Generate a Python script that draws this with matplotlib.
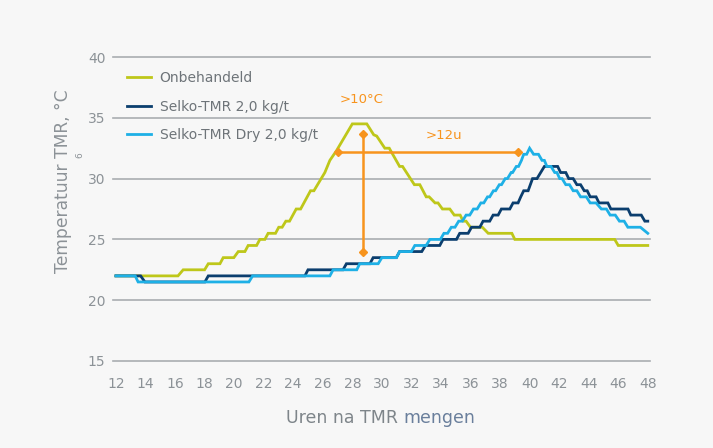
import matplotlib
matplotlib.use("Agg")
import matplotlib.pyplot as plt

# ---------------- data ----------------
hours_onb = [12, 16.2, 16.55, 18.0, 18.25, 19.04, 19.26, 19.98, 20.28, 20.73, 20.95, 21.52, 21.74,
             22.08, 22.3, 22.8, 23.02, 23.25, 23.5, 23.75, 24.2, 24.5, 25.17, 25.4, 26.14, 26.48,
             26.93, 28.0, 28.98, 29.45, 29.65, 30.2, 30.5, 31.2, 31.4, 32.2, 32.57, 33.0, 33.2,
             33.6, 33.8, 34.1, 34.6, 34.9, 35.3, 35.5, 35.7, 36.0, 36.8, 37.2, 38.8, 39.0, 45.76,
             46.0, 48]
temp_onb = [22, 22, 22.5, 22.5, 23, 23, 23.5, 23.5, 24, 24, 24.5, 24.5, 25,
            25, 25.5, 25.5, 26, 26, 26.5, 26.5, 27.5, 27.5, 29, 29, 30.5, 31.5,
            32.3, 34.5, 34.5, 33.6, 33.5, 32.5, 32.5, 31.0, 31.0, 29.5, 29.5, 28.5, 28.5,
            28.0, 28.0, 27.5, 27.5, 27.0, 27.0, 26.5, 26.5, 26.0, 26.0, 25.5, 25.5, 25.0, 25.0,
            24.5, 24.5]

hours_tmr = [12, 13.67, 13.96, 18.02, 18.25, 24.79, 25.0, 27.37, 27.6, 29.19, 29.41, 30.98, 31.2,
             32.7, 32.95, 33.92, 34.14, 35.05, 35.27, 35.84, 36.07, 36.63, 36.85, 37.3, 37.53,
             37.87, 38.09, 38.66, 38.88, 39.22, 39.4, 39.6, 39.9, 40.2, 40.5, 41.0, 41.9,
             42.1, 42.45, 42.65, 42.95, 43.2, 43.45, 43.7, 43.9, 44.1, 44.5, 44.7, 45.3, 45.5,
             46.66, 46.85, 47.56, 47.8, 48]
temp_tmr = [22, 22, 21.5, 21.5, 22, 22, 22.5, 22.5, 23, 23, 23.5, 23.5, 24,
            24, 24.5, 24.5, 25, 25, 25.5, 25.5, 26, 26, 26.5, 26.5, 27,
            27, 27.5, 27.5, 28, 28, 28.5, 29, 29, 30, 30, 31, 31,
            30.5, 30.5, 30, 30, 29.5, 29.5, 29, 29, 28.5, 28.5, 28, 28, 27.5,
            27.5, 27, 27, 26.5, 26.5]

hours_dry = [12, 13.3, 13.5, 21.0, 21.25, 26.48, 26.7, 28.3, 28.5, 29.75, 30.0, 30.98, 31.2,
             32.0, 32.23, 33.0, 33.25, 33.96, 34.2, 34.45, 34.7, 34.95, 35.2, 35.45, 35.7,
             35.95, 36.2, 36.45, 36.7, 36.9, 37.15, 37.3, 37.55, 37.7, 37.95, 38.1, 38.35,
             38.5, 38.75, 38.85, 39.1, 39.25, 39.45, 39.6, 39.8, 40.0,
             40.27, 40.6, 40.84, 41.0, 41.17, 41.45, 41.7, 41.85, 42.04, 42.2, 42.45, 42.7,
             42.95, 43.2, 43.45, 43.84, 44.1, 44.5, 44.86, 45.2, 45.45, 45.8, 46.08, 46.4,
             46.65, 47.5, 48]
temp_dry = [22, 22, 21.5, 21.5, 22, 22, 22.5, 22.5, 23, 23, 23.5, 23.5, 24,
            24, 24.5, 24.5, 25, 25, 25.5, 25.5, 26, 26, 26.5, 26.5, 27,
            27, 27.5, 27.5, 28, 28, 28.5, 28.5, 29, 29, 29.5, 29.5, 30,
            30, 30.5, 30.5, 31, 31, 31.5, 32, 32, 32.5,
            32, 32, 31.5, 31.5, 31, 31, 30.5, 30.5, 30, 30, 29.5, 29.5,
            29, 29, 28.5, 28.5, 28, 28, 27.5, 27.5, 27, 27, 26.5, 26.5,
            26, 26, 25.5]

series_labels = ["Onbehandeld", "Selko-TMR 2,0 kg/t", "Selko-TMR Dry 2,0 kg/t"]
series_colors = ["#bec71a", "#0b3e6e", "#1eb0e6"]

# annotation arrows
vert_arrow_hour = [28.75, 28.75]
vert_arrow_temp = [33.7, 24.0]
horiz_arrow_hour = [27.05, 39.2]
horiz_arrow_temp = [32.15, 32.15]
label_dT = ">10°C"
label_dt = ">12u"
label_dT_pos = (28.6, 36.5)
label_dt_pos = (34.2, 33.55)

x_ticks = list(range(12, 49, 2))
y_ticks = [15, 20, 25, 30, 35, 40]

# ---------------- style ----------------
BG = "#f7f7f7"
GRID = "#a9adb1"
TXT = "#8c9297"
LEG_TXT = "#6e7479"
ORANGE = "#f7941d"

W, H = 713, 448
fig = plt.figure(figsize=(W / 100, H / 100), dpi=100, facecolor=BG)
ax = fig.add_axes([113 / W, 1 - 361 / H, (650 - 113) / W, (361 - 57) / H], facecolor=BG)

for s in ax.spines.values():
    s.set_visible(False)

ax.set_xlim(11.8, 48.15)
ax.set_ylim(15, 40)
ax.set_xticks(x_ticks)
ax.set_yticks(y_ticks)
ax.tick_params(length=0, labelsize=10, labelcolor=TXT)
ax.tick_params(axis="x", pad=11.5)
ax.tick_params(axis="y", pad=5.5)
for yv in y_ticks:
    ax.axhline(yv, color=GRID, lw=1.2, zorder=1, clip_on=False)

lines = []
for hx, ty, lab, col in zip([hours_onb, hours_tmr, hours_dry],
                            [temp_onb, temp_tmr, temp_dry],
                            series_labels, series_colors):
    ln, = ax.plot(hx, ty, color=col, lw=2.0, label=lab, zorder=3,
                  solid_joinstyle="miter")
    lines.append(ln)

# orange annotation arrows
ax.plot(vert_arrow_hour, vert_arrow_temp, color=ORANGE, lw=1.8, zorder=4)
ax.plot(vert_arrow_hour, vert_arrow_temp, ls="none", marker="D", ms=4.5,
        color=ORANGE, zorder=4)
ax.plot(horiz_arrow_hour, horiz_arrow_temp, color=ORANGE, lw=1.8, zorder=4)
ax.plot(horiz_arrow_hour, horiz_arrow_temp, ls="none", marker="D", ms=4.5,
        color=ORANGE, zorder=4)
ax.text(*label_dT_pos, label_dT, color=ORANGE, fontsize=9.5, ha="center", va="center")
ax.text(*label_dt_pos, label_dt, color=ORANGE, fontsize=9.5, ha="center", va="center")

leg = ax.legend(handles=lines, loc="upper left", bbox_to_anchor=(127 / W, 1 - 71 / H),
                bbox_transform=fig.transFigure, frameon=False, fontsize=10,
                handlelength=1.75, handletextpad=0.6, labelspacing=1.05,
                borderpad=0, borderaxespad=0)
for t in leg.get_texts():
    t.set_color(LEG_TXT)

# y label
fig.text(63 / W, 1 - 181 / H, "Temperatuur TMR, °C", rotation=90, ha="center",
         va="center", fontsize=12.3, color=TXT)
fig.text(80 / W, 1 - 155 / H, "6", rotation=90, ha="center", va="center",
         fontsize=6.5, color=TXT)

# x label in two tones
t1 = fig.text(0, 1 - 418 / H, "Uren na TMR ", ha="left", va="center", fontsize=12.5, color="#7e858a")
t2 = fig.text(0, 1 - 418 / H, "mengen", ha="left", va="center", fontsize=12.5, color="#6a7f9c")
fig.canvas.draw()
r = fig.canvas.get_renderer()
w1 = t1.get_window_extent(r).width
w2 = t2.get_window_extent(r).width
cx = 381
x0 = cx - (w1 + w2) / 2
t1.set_x(x0 / W)
t2.set_x((x0 + w1) / W)

fig.savefig("out.png", dpi=100, facecolor=BG)
